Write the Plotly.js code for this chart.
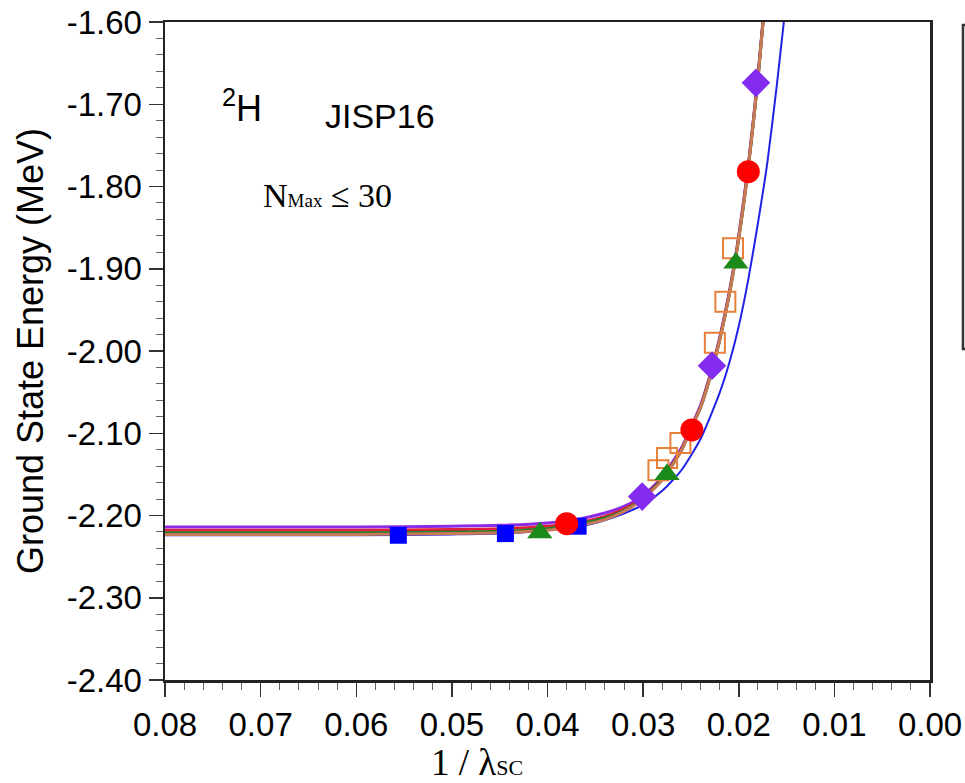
<!DOCTYPE html>
<html>
<head>
<meta charset="utf-8">
<script src="https://cdn.plot.ly/plotly-3.0.1.min.js"></script>
<style>html,body{margin:0;padding:0;background:#fff;}#chart{width:965px;height:783px;}</style>
</head>
<body>
<div id="chart"></div>
<script>
// ---- tick labels ----
const xTickVals = [0.08, 0.07, 0.06, 0.05, 0.04, 0.03, 0.02, 0.01, 0.00];
const xTickText = ['0.08', '0.07', '0.06', '0.05', '0.04', '0.03', '0.02', '0.01', '0.00'];
const yTickVals = [-1.6, -1.7, -1.8, -1.9, -2.0, -2.1, -2.2, -2.3, -2.4];
const yTickText = ['-1.60', '-1.70', '-1.80', '-1.90', '-2.00', '-2.10', '-2.20', '-2.30', '-2.40'];

// ---- fitted curves ----
const curveX   = [0.080, 0.070, 0.060, 0.050, 0.045, 0.040, 0.037, 0.034, 0.032, 0.030, 0.028, 0.026, 0.025, 0.024, 0.023, 0.022, 0.021, 0.020, 0.019, 0.018, 0.017];
const purpleY  = [-2.214, -2.214, -2.214, -2.213, -2.212, -2.209, -2.205, -2.197, -2.189, -2.176, -2.153, -2.118, -2.093, -2.066, -2.029, -1.984, -1.929, -1.860, -1.774, -1.667, -1.538];
const redY     = [-2.218, -2.218, -2.218, -2.217, -2.216, -2.213, -2.209, -2.201, -2.192, -2.178, -2.155, -2.120, -2.094, -2.068, -2.031, -1.986, -1.931, -1.862, -1.776, -1.669, -1.540];
const greenY   = [-2.221, -2.221, -2.221, -2.220, -2.219, -2.216, -2.211, -2.203, -2.194, -2.179, -2.156, -2.121, -2.095, -2.069, -2.032, -1.987, -1.932, -1.863, -1.777, -1.670, -1.541];
const brownY   = [-2.223, -2.223, -2.223, -2.222, -2.221, -2.218, -2.213, -2.205, -2.195, -2.180, -2.157, -2.121, -2.095, -2.069, -2.032, -1.987, -1.932, -1.863, -1.777, -1.670, -1.541];
const blueCurveX = [0.080, 0.060, 0.050, 0.045, 0.040, 0.036, 0.033, 0.030, 0.028, 0.026, 0.024, 0.022, 0.021, 0.020, 0.019, 0.018, 0.017, 0.016, 0.015];
const blueCurveY = [-2.224, -2.224, -2.223, -2.222, -2.218, -2.212, -2.202, -2.187, -2.170, -2.145, -2.107, -2.051, -2.015, -1.970, -1.913, -1.845, -1.770, -1.675, -1.570];

// ---- data points ----
const blueX = [0.0556, 0.0444, 0.0368];
const blueY = [-2.224, -2.222, -2.213];
const greenX = [0.0408, 0.0275, 0.0203];
const greenPtY = [-2.221, -2.150, -1.893];
const redX = [0.0380, 0.0249, 0.0190];
const redPtY = [-2.210, -2.096, -1.782];
const purpleX = [0.0301, 0.0228, 0.0182];
const purplePtY = [-2.177, -2.018, -1.674];
const orangeX = [0.0284, 0.0275, 0.0261, 0.0225, 0.0214, 0.0206];
const orangeY = [-2.145, -2.130, -2.112, -1.990, -1.940, -1.875];

const traces = [
  {x: blueCurveX, y: blueCurveY, mode: 'lines', line: {color: '#2222e6', width: 2, shape: 'spline', smoothing: 0.6}},
  {x: curveX, y: purpleY, mode: 'lines', line: {color: '#8b2be8', width: 3, shape: 'spline', smoothing: 0.6}},
  {x: curveX, y: redY, mode: 'lines', line: {color: '#e0203a', width: 3, shape: 'spline', smoothing: 0.6}},
  {x: curveX, y: greenY, mode: 'lines', line: {color: '#2a7a2a', width: 3, shape: 'spline', smoothing: 0.6}},
  {x: curveX, y: brownY, mode: 'lines', line: {color: '#c77a55', width: 3, shape: 'spline', smoothing: 0.6}},
  {x: orangeX, y: orangeY, mode: 'markers', marker: {symbol: 'square-open', size: 20, color: '#e6803a', line: {width: 2, color: '#e6803a'}}},
  {x: blueX, y: blueY, mode: 'markers', marker: {symbol: 'square', size: 17, color: '#0000ff'}},
  {x: greenX, y: greenPtY, mode: 'markers', marker: {symbol: 'triangle-up', size: 22, color: '#1a8a1a'}},
  {x: purpleX, y: purplePtY, mode: 'markers', marker: {symbol: 'diamond', size: 22, color: '#832cf0'}},
  {x: redX, y: redPtY, mode: 'markers', marker: {symbol: 'circle', size: 23, color: '#ff0000'}}
];

const tickFont = {family: 'Liberation Sans, Arial, sans-serif', size: 33, color: '#000'};

const layout = {
  width: 965, height: 783,
  margin: {l: 165, r: 35, t: 22, b: 103},
  paper_bgcolor: '#fff', plot_bgcolor: '#fff',
  showlegend: false,
  xaxis: {
    range: [0.08, 0.0], tickmode: 'array', tickvals: xTickVals, ticktext: xTickText,
    ticks: 'outside', ticklen: 14, tickwidth: 1.5, tickcolor: '#333',
    minor: {tickmode: 'linear', tick0: 0, dtick: 0.002, ticks: 'outside', ticklen: 7, tickwidth: 1, tickcolor: '#666'},
    showline: true, linewidth: 2.5, linecolor: '#222', mirror: true,
    showgrid: false, zeroline: false, tickfont: tickFont
  },
  yaxis: {
    range: [-2.4, -1.6], tickmode: 'array', tickvals: yTickVals, ticktext: yTickText,
    ticks: 'outside', ticklen: 14, tickwidth: 1.5, tickcolor: '#333',
    minor: {tickmode: 'linear', tick0: 0, dtick: 0.02, ticks: 'outside', ticklen: 7, tickwidth: 1, tickcolor: '#666'},
    showline: true, linewidth: 2.5, linecolor: '#222', mirror: true,
    showgrid: false, zeroline: false, tickfont: tickFont,
    title: {text: 'Ground State Energy (MeV)', font: {family: 'Liberation Sans, Arial, sans-serif', size: 36, color: '#000'}, standoff: 12}
  },
  annotations: [
    {xref: 'paper', yref: 'paper', x: 0.408, y: -0.125, xanchor: 'center', yanchor: 'middle', showarrow: false,
     text: '1 / λ<span style="font-size:22px">SC</span>', font: {family: 'Liberation Serif, Times New Roman, serif', size: 37, color: '#000'}},
    {xref: 'paper', yref: 'paper', x: 0.072, y: 0.872, xanchor: 'left', yanchor: 'middle', showarrow: false,
     text: '<sup>2</sup>H', font: {family: 'Liberation Sans, Arial, sans-serif', size: 36, color: '#000'}},
    {xref: 'paper', yref: 'paper', x: 0.207, y: 0.857, xanchor: 'left', yanchor: 'middle', showarrow: false,
     text: 'JISP16', font: {family: 'Liberation Sans, Arial, sans-serif', size: 34, color: '#000'}},
    {xref: 'paper', yref: 'paper', x: 0.126, y: 0.737, xanchor: 'left', yanchor: 'middle', showarrow: false,
     text: 'N<span style="font-size:19px">Max</span> ≤ 30', font: {family: 'Liberation Serif, Times New Roman, serif', size: 34, color: '#000'}}
  ],
  shapes: [
    {type: 'path', xref: 'paper', yref: 'paper', path: 'M 1.052,0.9954 L 1.0431,0.9954 L 1.0431,0.503 L 1.052,0.503',
     line: {color: '#333', width: 2.5}}
  ]
};

Plotly.newPlot('chart', traces, layout, {displayModeBar: false, staticPlot: true});
</script>
</body>
</html>
